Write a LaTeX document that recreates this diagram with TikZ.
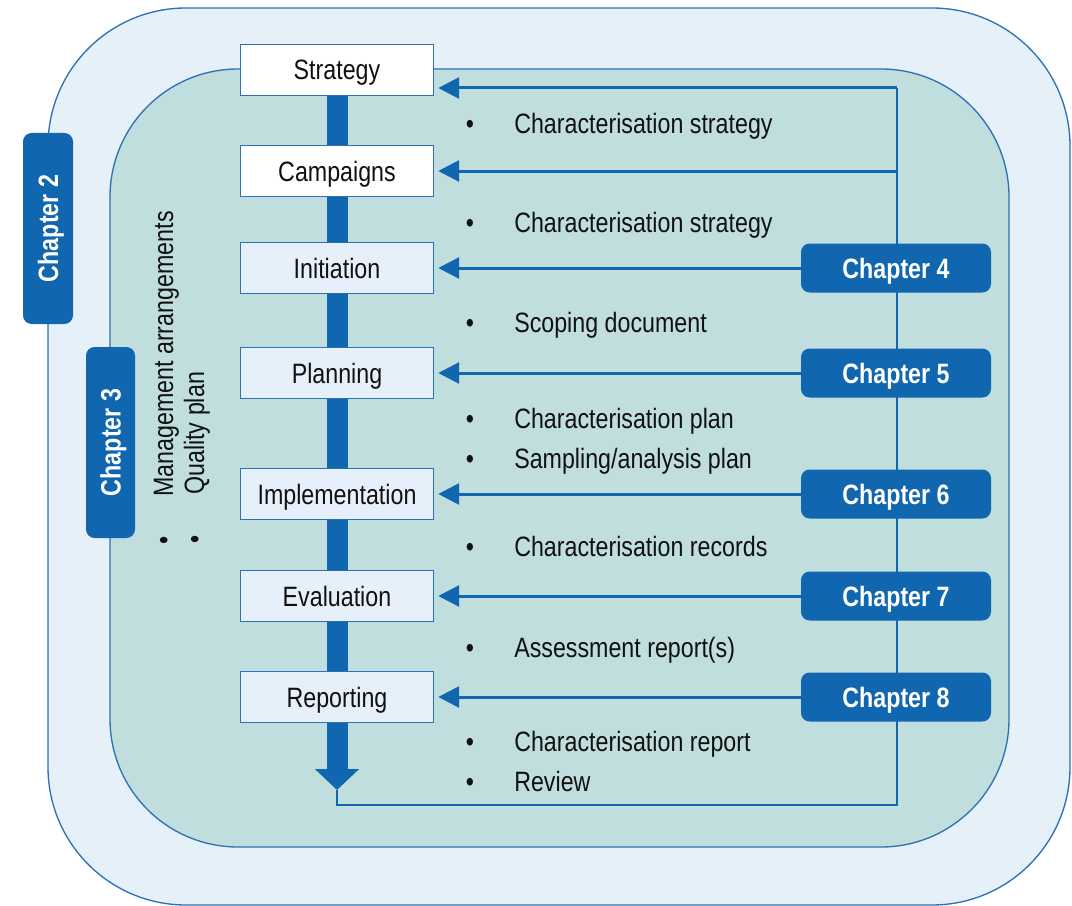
\documentclass[tikz,border=0pt]{standalone}
\usepackage{fontspec}
\setmainfont[FakeStretch=0.83]{Liberation Sans}
\usetikzlibrary{arrows.meta}
\pgfdeclarelayer{back}
\pgfdeclarelayer{mid}
\pgfsetlayers{back,mid,main}
\definecolor{outerfill}{HTML}{E6F0F9}
\definecolor{innerfill}{HTML}{C0DEDD}
\definecolor{edgeblue}{HTML}{2E72B5}
\definecolor{darkblue}{HTML}{1166B0}
\definecolor{stagefill}{HTML}{E6F0FA}
\definecolor{txt}{HTML}{111111}
\begin{document}
\begin{tikzpicture}[x=0.75pt,y=-0.75pt,
  font=\fontsize{21}{25}\selectfont,
  stagebox/.style={draw=edgeblue, line width=1.1pt, minimum width=144.75pt, minimum height=38.25pt,
    inner sep=0pt, text height=15pt, text depth=0pt, text=txt},
  chapbox/.style={fill=darkblue, rounded corners=6.5pt, minimum width=142.5pt, minimum height=36.75pt,
    inner sep=0pt, text=white, font=\fontsize{21}{25}\selectfont\bfseries, text height=15pt, text depth=0pt},
  lbl/.style={inner sep=0pt, text=txt},
  arr/.style={draw=darkblue, line width=2.25pt, -{Triangle[length=15.75pt,width=15.75pt]}, shorten >=3pt},
  loopline/.style={draw=darkblue, line width=1.5pt, line join=miter},
  flowbar/.style={draw=darkblue, line width=15.75pt, -{Triangle[length=15.75pt,width=32.25pt]}},
  region/.style={draw=edgeblue, line width=1pt}]
\useasboundingbox (0,0) rectangle (1072,906);

% nested regions
\begin{pgfonlayer}{back}
\draw[region, fill=outerfill, rounded corners=103.5pt] (48,8) rectangle (1070,905);
\draw[region, fill=innerfill, rounded corners=96pt] (110,69) rectangle (1009,847);
\end{pgfonlayer}

% left chapters
\node[chapbox, rotate=90, minimum width=143.25pt, minimum height=37.5pt] (ch2) at (48,228.5) {Chapter 2};
\node[chapbox, rotate=90, minimum width=143.25pt, minimum height=36.75pt] (ch3) at (110.5,442.5) {Chapter 3};

% rotated bullet list
\node[lbl, rotate=90, anchor=base west] (mgmt) at (173,497) {Management arrangements};
\node[lbl, rotate=90, anchor=base west] (qual) at (204,495) {Quality plan};
\node[lbl, rotate=90, anchor=base] (bm) at (173,540) {•};
\node[lbl, rotate=90, anchor=base] (bq) at (204,539) {•};

% stage boxes
\node[stagebox, fill=white] (strategy) at (337,70) {Strategy};
\node[stagebox, fill=white] (campaigns) at (337,171) {Campaigns};
\node[stagebox, fill=stagefill] (initiation) at (337,268) {Initiation};
\node[stagebox, fill=stagefill] (planning) at (337,373) {Planning};
\node[stagebox, fill=stagefill] (implementation) at (337,494) {Implementation};
\node[stagebox, fill=stagefill] (evaluation) at (337,596) {Evaluation};
\node[stagebox, fill=stagefill] (reporting) at (337,697) {Reporting};

% loop connector and main flow bar (behind boxes)
\coordinate (tip) at (337,790);
\coordinate (bl) at (337,805);
\coordinate (br) at (897,805);
\coordinate (tr) at (897,88);
\coordinate (cr) at (897,171);
\begin{pgfonlayer}{mid}
\draw[loopline] (tip) -- (bl) -- (br) -- (tr);
\draw[flowbar] (strategy.south) -- (tip);
\end{pgfonlayer}

% right chapters
\node[chapbox] (ch4) at (896,268) {Chapter 4};
\node[chapbox] (ch5) at (896,373) {Chapter 5};
\node[chapbox] (ch6) at (896,494) {Chapter 6};
\node[chapbox] (ch7) at (896,596) {Chapter 7};
\node[chapbox] (ch8) at (896,697) {Chapter 8};

% arrows into stages
\draw[arr] (tr) -- (tr -| strategy.east);
\draw[arr] (cr) -- (campaigns.east);
\draw[arr] (ch4.west) -- (initiation.east);
\draw[arr] (ch5.west) -- (planning.east);
\draw[arr] (ch6.west) -- (implementation.east);
\draw[arr] (ch7.west) -- (evaluation.east);
\draw[arr] (ch8.west) -- (reporting.east);

% outputs
\foreach \b/\t/\n in {133/Characterisation strategy/a, 232/Characterisation strategy/b,
  332/Scoping document/c, 428/Characterisation plan/d, 468/Sampling\slash analysis plan/e,
  556/Characterisation records/f, 657/Assessment report(s)/g, 751/Characterisation report/h,
  791/Review/i}{
  \node[lbl, anchor=base] (bul\n) at (470,\b) {•};
  \node[lbl, anchor=base west] (out\n) at (514,\b) {\t};
}
\end{tikzpicture}
\end{document}
